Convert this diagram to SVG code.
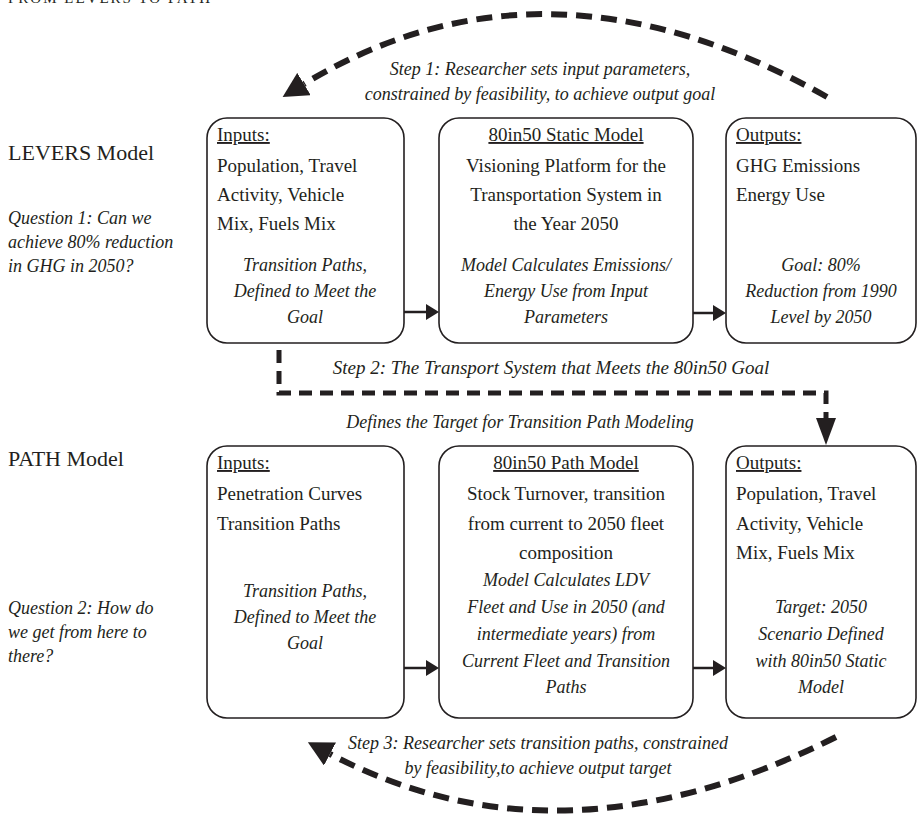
<svg xmlns="http://www.w3.org/2000/svg" width="920" height="823" viewBox="0 0 920 823">
<style>
text{font-family:"Liberation Serif","Times New Roman",serif;fill:#231f20}
.b{font-size:19px}
.h{font-size:22px}
.i{font-size:18px;font-style:italic}
.c{text-anchor:middle}
.u{text-decoration:underline}
.box{fill:#fff;stroke:#231f20;stroke-width:1.6}
.arr{stroke:#231f20;stroke-width:2.5;fill:none}
.dash{stroke:#231f20;stroke-width:6;fill:none;stroke-dasharray:16 9}
.dash2{stroke:#231f20;stroke-width:5;fill:none;stroke-dasharray:13 8}
</style>
<defs>
<marker id="ah" markerUnits="userSpaceOnUse" markerWidth="14" markerHeight="16" refX="0" refY="8" orient="auto"><path d="M0,0 L13,8 L0,16 z" fill="#231f20"/></marker>
<marker id="big" markerUnits="userSpaceOnUse" markerWidth="26" markerHeight="26" refX="0" refY="13" orient="auto"><path d="M0,0 L25,13 L0,26 z" fill="#231f20"/></marker>
<marker id="down" markerUnits="userSpaceOnUse" markerWidth="28" markerHeight="20" refX="0" refY="10" orient="auto"><path d="M0,0 L27,10 L0,20 z" fill="#231f20"/></marker>
</defs>

<text x="8" y="3" style="font-size:15px;letter-spacing:2px">FROM LEVERS TO PATH</text>

<g id="labels">
<text class="h" x="8" y="160">LEVERS Model</text>
<text class="i" x="8" y="224">Question 1: Can we</text>
<text class="i" x="8" y="248">achieve 80% reduction</text>
<text class="i" x="8" y="272">in GHG in 2050?</text>
<text class="h" x="8" y="466">PATH Model</text>
<text class="i" x="8" y="614">Question 2: How do</text>
<text class="i" x="8" y="638">we get from here to</text>
<text class="i" x="8" y="662">there?</text>
</g>

<g id="levers-inputs">
<rect class="box" x="207" y="118" width="197" height="225" rx="20"/>
<text class="b u" x="217" y="141">Inputs:</text>
<text class="b" x="217" y="172">Population, Travel</text>
<text class="b" x="217" y="201">Activity, Vehicle</text>
<text class="b" x="217" y="230">Mix, Fuels Mix</text>
<text class="i c" x="305" y="271">Transition Paths,</text>
<text class="i c" x="305" y="297">Defined to Meet the</text>
<text class="i c" x="305" y="323">Goal</text>
</g>

<g id="levers-static">
<rect class="box" x="439" y="118" width="254" height="225" rx="20"/>
<text class="b c u" x="566" y="141">80in50 Static Model</text>
<text class="b c" x="566" y="172">Visioning Platform for the</text>
<text class="b c" x="566" y="201">Transportation System in</text>
<text class="b c" x="566" y="230">the Year 2050</text>
<text class="i c" x="566" y="271">Model Calculates Emissions/</text>
<text class="i c" x="566" y="297">Energy Use from Input</text>
<text class="i c" x="566" y="323">Parameters</text>
</g>

<g id="levers-outputs">
<rect class="box" x="726" y="118" width="190" height="225" rx="20"/>
<text class="b u" x="736" y="141">Outputs:</text>
<text class="b" x="736" y="172">GHG Emissions</text>
<text class="b" x="736" y="201">Energy Use</text>
<text class="i c" x="821" y="271">Goal: 80%</text>
<text class="i c" x="821" y="297">Reduction from 1990</text>
<text class="i c" x="821" y="323">Level by 2050</text>
</g>

<g id="path-inputs">
<rect class="box" x="207" y="446" width="197" height="272" rx="20"/>
<text class="b u" x="217" y="469">Inputs:</text>
<text class="b" x="217" y="500">Penetration Curves</text>
<text class="b" x="217" y="530">Transition Paths</text>
<text class="i c" x="305" y="597">Transition Paths,</text>
<text class="i c" x="305" y="623">Defined to Meet the</text>
<text class="i c" x="305" y="649">Goal</text>
</g>

<g id="path-model">
<rect class="box" x="439" y="446" width="254" height="272" rx="20"/>
<text class="b c u" x="566" y="469">80in50 Path Model</text>
<text class="b c" x="566" y="500">Stock Turnover, transition</text>
<text class="b c" x="566" y="530">from current to 2050 fleet</text>
<text class="b c" x="566" y="559">composition</text>
<text class="i c" x="566" y="586">Model Calculates LDV</text>
<text class="i c" x="566" y="613">Fleet and Use in 2050 (and</text>
<text class="i c" x="566" y="640">intermediate years) from</text>
<text class="i c" x="566" y="667">Current Fleet and Transition</text>
<text class="i c" x="566" y="693">Paths</text>
</g>

<g id="path-outputs">
<rect class="box" x="726" y="446" width="190" height="272" rx="20"/>
<text class="b u" x="736" y="469">Outputs:</text>
<text class="b" x="736" y="500">Population, Travel</text>
<text class="b" x="736" y="530">Activity, Vehicle</text>
<text class="b" x="736" y="559">Mix, Fuels Mix</text>
<text class="i c" x="821" y="613">Target: 2050</text>
<text class="i c" x="821" y="640">Scenario Defined</text>
<text class="i c" x="821" y="667">with 80in50 Static</text>
<text class="i c" x="821" y="693">Model</text>
</g>

<g id="connectors">
<line class="arr" x1="404" y1="312" x2="426" y2="312" marker-end="url(#ah)"/>
<line class="arr" x1="693" y1="313" x2="713" y2="313" marker-end="url(#ah)"/>
<line class="arr" x1="404" y1="668" x2="426" y2="668" marker-end="url(#ah)"/>
<line class="arr" x1="693" y1="668" x2="713" y2="668" marker-end="url(#ah)"/>
<path class="dash" d="M827,97 Q545,-62 304,84" marker-end="url(#big)"/>
<path class="dash2" d="M279,350 V393 H826 V418" marker-end="url(#down)"/>
<path class="dash" d="M836,737 Q560,875 330,754" marker-end="url(#big)"/>
<text class="i c" x="540" y="75">Step 1: Researcher sets input parameters,</text>
<text class="i c" x="540" y="100">constrained by feasibility, to achieve output goal</text>
<text class="i c" x="551" y="374" style="font-size:19px">Step 2: The Transport System that Meets the 80in50 Goal</text>
<text class="i c" x="520" y="428">Defines the Target for Transition Path Modeling</text>
<text class="i c" x="538" y="749">Step 3: Researcher sets transition paths, constrained</text>
<text class="i c" x="538" y="774">by feasibility,to achieve output target</text>
</g>
</svg>
